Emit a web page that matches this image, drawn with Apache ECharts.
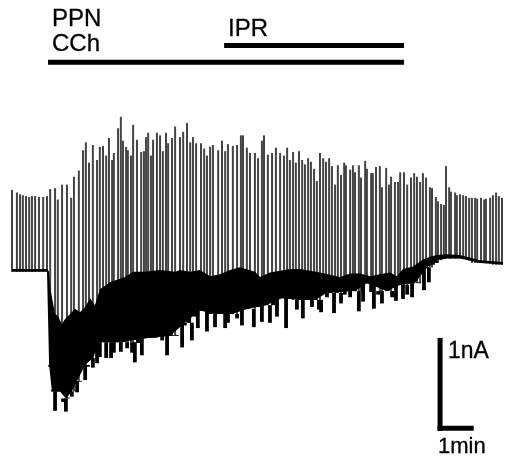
<!DOCTYPE html>
<html><head><meta charset="utf-8">
<style>html,body{margin:0;padding:0;background:#fff}#c{width:508px;height:456px;filter:blur(.35px)}</style>
<script src="https://cdn.jsdelivr.net/npm/echarts@6/dist/echarts.min.js"></script>
</head><body><div id="c"></div>
<script>
// Time in minutes, current in nA
const pulseTimes=[0,.14,.23,.31,.40,.49,.57,.66,.77,.89,1.00,1.09,1.23,1.31,1.43,1.57,1.69,1.77,1.91,2.03,2.11,2.20,2.31,2.43,2.51,2.60,2.69,2.77,2.86,2.91,3.03,3.11,3.17,3.26,3.31,3.40,3.46,3.57,3.69,3.77,3.83,3.89,3.97,4.03,4.14,4.23,4.31,4.40,4.46,
4.57,4.66,4.80,4.89,5.00,5.09,5.17,5.26,5.40,5.49,5.57,5.66,5.74,5.89,6.00,6.09,6.17,6.31,6.43,6.54,6.60,6.71,6.80,6.94,7.03,7.14,7.20,7.31,7.43,7.54,7.66,7.77,7.86,7.94,8.03,8.11,8.20,8.29,8.37,8.46,8.54,8.63,8.71,8.80,8.89,8.97,9.06,9.14,9.23,
9.31,9.40,9.49,9.54,9.66,9.74,9.80,9.91,9.97,10.09,10.14,10.26,10.31,10.40,10.51,10.57,10.69,10.77,10.83,10.94,11.03,11.09,11.20,11.29,11.40,11.49,11.57,11.66,11.74,11.83,11.94,12.00,12.11,12.17,12.26,12.34,12.40,12.49,12.54,12.66,12.71,12.80,12.89,12.97,13.06,13.14,13.23,13.29,13.40,13.49,13.54,13.66,13.74,13.83,13.91,14.00];
const pulseTops=[.91,.88,.86,.85,.84,.83,.84,.84,.83,.83,.84,.92,.93,.80,.97,.97,.82,1.06,1.13,1.36,1.45,1.22,1.42,1.25,1.40,1.41,1.30,1.50,1.25,1.33,1.61,1.74,1.47,1.40,1.36,1.30,1.65,1.48,1.34,1.35,1.51,1.56,1.30,1.48,1.56,1.53,1.35,1.56,1.44,
1.50,1.63,1.51,1.57,1.67,1.45,1.51,1.44,1.44,1.38,1.30,1.40,1.42,1.36,1.47,1.35,1.43,1.41,1.42,1.53,1.53,1.39,1.33,1.33,1.27,1.47,1.53,1.31,1.33,1.39,1.33,1.30,1.39,1.25,1.34,1.22,1.35,1.25,1.20,1.27,1.23,1.15,1.01,1.33,1.27,1.23,1.27,1.18,.97,
1.19,1.08,1.22,1.19,1.14,1.19,1.11,1.19,1.05,1.24,1.15,1.10,1.10,1.17,1.18,.94,1.16,.97,1.06,1.00,1.00,1.11,1.11,.97,1.05,1.10,1.06,1.00,1.10,1.05,.94,.93,.83,.78,.75,.74,1.18,.94,.89,.88,.85,.86,.85,.84,.82,.82,.82,.81,.82,.80,.81,.82,.85,.88,.84,.82];

const bandUpperTimes=[0,1.00,1.06,1.09,1.23,1.31,1.43,1.49,1.54,1.66,1.80,1.94,2.09,2.23,2.37,2.51,2.66,2.80,2.94,3.23,3.46,3.80,4.23,4.66,4.80,5.09,5.37,5.66,5.94,6.23,6.51,6.94,7.09,7.37,7.66,7.94,8.23,8.51,8.80,9.37,9.66,9.94,10.23,10.51,10.80,11.00,11.17,11.46,11.74,11.94,12.14,12.43,12.80,13.37,14.03];
const bandUpper=[.01,.01,-.02,-.20,-.50,-.52,-.62,-.57,-.55,-.50,-.44,-.48,-.42,-.32,-.40,-.22,-.18,-.14,-.12,-.08,-.02,-.02,0,-.02,0,-.02,0,-.07,-.05,0,.03,-.02,-.08,-.03,-.01,.01,.01,-.01,-.03,-.08,-.04,-.04,-.07,-.05,-.03,-.07,.01,.04,.12,.15,.17,.18,.17,.11,.09];
const bandLowerTimes=[0,1.00,1.06,1.14,1.37,1.54,1.71,1.86,2.09,2.31,2.51,3.09,3.94,4.51,4.94,5.37,5.80,6.29,6.74,7.26,7.71,8.23,8.66,9.00,9.80,10.14,10.71,11.09,11.51,11.86,12.14,12.43,12.80,13.37,14.03];
const bandLower=[-.02,-.02,-1.08,-1.38,-1.38,-1.46,-1.38,-1.26,-1.08,-1.00,-.82,-.82,-.77,-.75,-.60,-.46,-.50,-.50,-.44,-.40,-.32,-.34,-.34,-.26,-.24,-.15,-.24,-.17,-.15,.03,.11,.13,.13,.08,.06];

const spikeTimes=[1.09,1.17,1.23,1.29,1.37,1.46,1.54,1.60,1.71,1.80,1.86,1.94,2.03,2.09,2.17,2.31,2.43,2.51,2.57,2.69,2.83,2.91,3.00,3.11,3.17,3.29,3.43,3.51,3.60,3.71,3.86,4.00,4.09,4.29,4.43,4.57,4.71,4.86,4.94,5.06,5.14,5.23,5.31,5.43,5.57,5.66,5.80,5.89,6.00,6.09,6.17,6.29,6.43,6.57,6.66,6.74,6.91,7.03,7.14,7.26,7.37,7.46,7.57,7.71,7.83,7.94,8.14,8.23,8.31,8.46,8.57,8.66,8.77,8.83,9.00,9.09,9.20,9.29,9.40,9.51,9.66,9.80,9.91,10.03,10.14,10.26,10.34,10.46,10.57,10.71,10.86,10.97,11.09,11.17,11.29,11.43,11.51,11.63,11.77,11.86,11.91,12.03,12.14];
const spikeLows=[-1.10,-1.36,-1.60,-1.34,-1.36,-1.50,-1.61,-1.45,-1.44,-1.23,-1.39,-1.27,-1.06,-1.25,-1.10,-1.11,-1.06,-.99,-.74,-1.00,-1.00,-.94,-.76,-.93,-.74,-.89,-.94,-1.05,-.83,-.97,-.74,-.76,-.72,-.80,-.97,-.74,-.74,-.88,-.63,-.45,-.80,-.53,-.66,-.38,-.70,-.42,-.65,-.45,-.48,-.66,-.60,-.45,-.55,-.63,-.40,-.38,-.65,-.42,-.59,-.34,-.60,-.31,-.53,-.25,-.66,-.23,-.45,-.26,-.55,-.26,-.42,-.26,-.45,-.48,-.31,-.17,-.49,-.19,-.38,-.28,-.31,-.17,-.47,-.36,-.09,-.25,-.44,-.28,-.38,-.23,-.31,-.35,-.15,-.33,-.28,-.31,-.15,-.14,-.23,.02,-.14,.06,.08];

const cchBar=[1.03,11.2], cchLevel=2.36;
const iprBar=[6.06,11.2], iprLevel=2.55;
const scaleTime=[12.23,13.12], scaleCurrent=[-1.80,-.80];

function nearestLower(t){let b=0,d=1e9;bandLowerTimes.forEach((x,i)=>{const e=Math.abs(x-t);if(e<d){d=e;b=i}});return bandLower[b]}

const seg=(color,width,cap)=>(params,api)=>{
  const a=api.coord([api.value(0),api.value(1)]),b=api.coord([api.value(2),api.value(3)]);
  return {type:'line',shape:{x1:a[0],y1:a[1],x2:b[0],y2:b[1]},style:{stroke:color,lineWidth:width,lineCap:cap||'butt'}};
};
const base={type:'custom',silent:true,animation:false,clip:false,encode:{x:0,y:1}};
const txt=(text,x,y,size)=>({type:'text',x,y,style:{text,font:size+'px "Liberation Sans", Arial, sans-serif',fill:'#000',stroke:'#000',lineWidth:.3,textVerticalAlign:'bottom'},silent:true});

const chart=echarts.init(document.getElementById('c'),null,{renderer:'canvas'});
chart.setOption({
  animation:false,backgroundColor:'#fff',
  grid:{left:0,right:0,top:0,bottom:0},
  xAxis:{type:'value',min:-.343,max:14.171,show:false},
  yAxis:{type:'value',min:-2.114,max:3.068,show:false},
  graphic:[txt('PPN',52,31,24),txt('CCh',52,56,24),txt('IPR',228,41,24),txt('1nA',448,363,23),txt('1min',438,458,22)],
  series:[
    Object.assign({},base,{renderItem:seg('#444',2),data:pulseTimes.map((t,i)=>[t,nearestLower(t),t,pulseTops[i]])}),
    Object.assign({},base,{renderItem:(p,api)=>{
        const up=bandUpperTimes.map((t,i)=>api.coord([t,bandUpper[i]]));
        const lo=bandLowerTimes.map((t,i)=>api.coord([t,bandLower[i]])).reverse();
        return {type:'polygon',shape:{points:up.concat(lo)},style:{fill:'#000'}};
      },data:[[0,0]]}),
    Object.assign({},base,{renderItem:seg('#000',3.8),data:spikeTimes.map((t,i)=>[t,spikeLows[i],t,nearestLower(t)])}),
    Object.assign({},base,{renderItem:seg('#000',5),data:[[cchBar[0],cchLevel,cchBar[1],cchLevel],[iprBar[0],iprLevel,iprBar[1],iprLevel]]}),
    Object.assign({},base,{renderItem:seg('#000',5,'square'),data:[[scaleTime[0],scaleCurrent[0],scaleTime[0],scaleCurrent[1]],[scaleTime[0],scaleCurrent[0],scaleTime[1],scaleCurrent[0]]]})
  ]
});
</script></body></html>
